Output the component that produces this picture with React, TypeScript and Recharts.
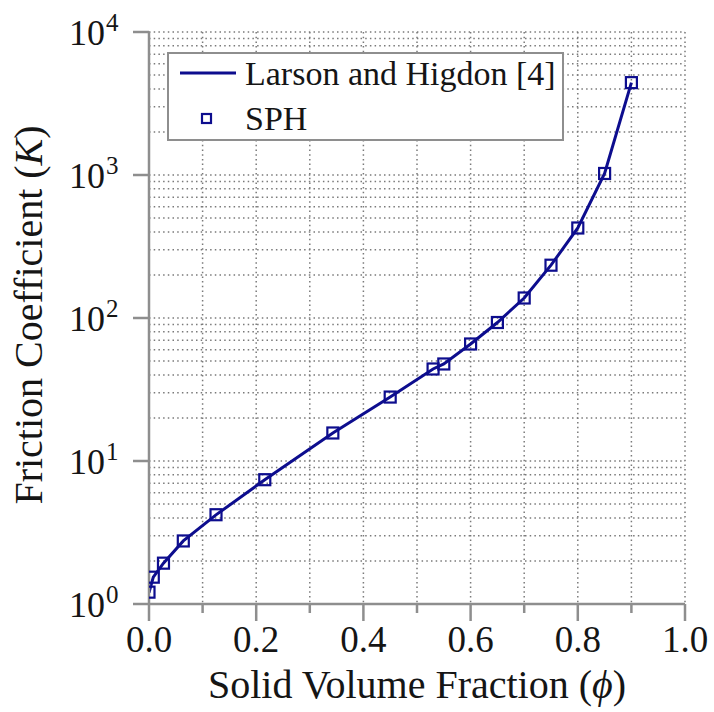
import React from "react";
import {
  ComposedChart,
  Line,
  Scatter,
  XAxis,
  YAxis,
  CartesianGrid,
  Legend,
} from "recharts";

// solid volume fraction and friction coefficient
const phi = [0, 0.008, 0.027, 0.064, 0.125, 0.216, 0.343, 0.45, 0.53, 0.55, 0.6, 0.65, 0.7, 0.75, 0.8, 0.85, 0.9];
const larsonK = [1.2, 1.54, 1.93, 2.76, 4.2, 7.4, 15.7, 28.0, 44, 47.7, 65.8, 93, 138, 234, 426, 1025, 4425];
const sphK = [1.21, 1.54, 1.93, 2.76, 4.21, 7.4, 15.7, 28.0, 44, 47.7, 65.8, 93, 138, 234, 426, 1025, 4425];

const xTicks = [0, 0.1, 0.2, 0.3, 0.4, 0.5, 0.6, 0.7, 0.8, 0.9, 1.0];
const decades = [1, 10, 100, 1000];
const mantissas = [1, 2, 3, 4, 5, 6, 7, 8, 9];
const yTicks = [...decades.flatMap((d) => mantissas.map((m) => m * d)), 10000];

const rows = phi.map((p, i) => ({ phi: p, larson: larsonK[i], sph: sphK[i] }));

const NAVY = "#0d0d8e";
const FRAME = "#8e8e8e";
const FONT = "'Liberation Serif', 'Times New Roman', serif";
const TEXT = "#151515";
const txt = { fontFamily: FONT };

const isMajorX = (v: number) => Math.round(v * 10) % 2 === 0;
const isDecade = (v: number) => decades.includes(v) || v === 10000;

function BottomTick(props: any) {
  const { x, y, payload } = props;
  const major = isMajorX(payload.value);
  return (
    <g>
      <line x1={x} y1={y} x2={x} y2={y + (major ? 17 : 9)} stroke={FRAME} strokeWidth={2.5} />
      {major && (
        <text x={x} y={y + 48} textAnchor="middle" style={txt} fontSize={37} fill={TEXT}>
          {payload.value.toFixed(1)}
        </text>
      )}
    </g>
  );
}

function TopTick(props: any) {
  const { x, y, payload } = props;
  const major = isMajorX(payload.value);
  return <line x1={x} y1={y} x2={x} y2={y - (major ? 18 : 8)} stroke={FRAME} strokeWidth={2.5} />;
}

function LeftTick(props: any) {
  const { x, y, payload } = props;
  if (!isDecade(payload.value)) return <g />;
  const exp = Math.round(Math.log10(payload.value));
  return (
    <g>
      <line x1={x} y1={y} x2={x - 16} y2={y} stroke={FRAME} strokeWidth={2.5} />
      <text x={x - 44} y={y + 13} textAnchor="end" style={txt} fontSize={36} fill={TEXT}>
        10
      </text>
      <text x={x - 43} y={y - 1} textAnchor="start" style={txt} fontSize={25} fill={TEXT}>
        {exp}
      </text>
    </g>
  );
}

function RightTick(props: any) {
  const { x, y, payload } = props;
  if (!isDecade(payload.value)) return <g />;
  return <line x1={x} y1={y} x2={x + 17} y2={y} stroke={FRAME} strokeWidth={2.5} />;
}

function XTitle(props: any) {
  const { viewBox } = props;
  const cx = viewBox.x + viewBox.width / 2;
  return (
    <text x={cx} y={viewBox.y + 94} textAnchor="middle" style={txt} fontSize={40} fill={TEXT}>
      Solid Volume Fraction (<tspan fontStyle="italic">ϕ</tspan>)
    </text>
  );
}

function YTitle(props: any) {
  const { viewBox } = props;
  const cy = viewBox.y + viewBox.height / 2 - 3;
  const bx = 42;
  return (
    <text
      x={bx}
      y={cy}
      textAnchor="middle"
      transform={`rotate(-90, ${bx}, ${cy})`}
      style={txt}
      fontSize={40}
      fill={TEXT}
    >
      Friction Coefficient (<tspan fontStyle="italic">K</tspan>)
    </text>
  );
}

function Square(props: any) {
  const { cx, cy } = props;
  if (cx == null || cy == null) return <g />;
  return <rect x={cx - 5.5} y={cy - 5.5} width={11} height={11} fill="none" stroke={NAVY} strokeWidth={2.2} />;
}

function LegendBox() {
  return (
    <div
      style={{
        width: 397,
        height: 89,
        boxSizing: "border-box",
        border: `2px solid ${FRAME}`,
        background: "#fff",
      }}
    >
      <svg width={393} height={85} style={{ display: "block" }}>
        <line x1={11} y1={19} x2={67} y2={19} stroke={NAVY} strokeWidth={3} />
        <text x={76} y={31} style={txt} fontSize={34} fill={TEXT}>
          Larson and Higdon [4]
        </text>
        <rect x={33} y={60} width={9} height={9} fill="none" stroke={NAVY} strokeWidth={2.2} />
        <text x={76} y={76} style={txt} fontSize={34} fill={TEXT}>
          SPH
        </text>
      </svg>
    </div>
  );
}

export default function App() {
  return (
    <div style={{ position: "absolute", left: 0, top: 0, background: "#fff" }}>
      <ComposedChart width={714} height={712} data={rows} margin={{ top: 32, right: 29, bottom: 0, left: 0 }}>
        <CartesianGrid stroke="#7a7a7a" strokeDasharray="1.5 3.2" strokeWidth={1.5} />
        <XAxis
          type="number"
          dataKey="phi"
          domain={[0, 1]}
          ticks={xTicks}
          interval={0}
          allowDataOverflow
          height={108}
          tickLine={false}
          tickSize={0}
          tickMargin={0}
          tick={(p: any) => <BottomTick {...p} />}
          axisLine={{ stroke: FRAME, strokeWidth: 2.5 }}
          label={{ content: (p: any) => <XTitle {...p} /> }}
        />
        <XAxis
          xAxisId="top"
          orientation="top"
          type="number"
          dataKey="phi"
          domain={[0, 1]}
          ticks={xTicks}
          interval={0}
          allowDataOverflow
          height={0}
          tickLine={false}
          tickSize={0}
          tickMargin={0}
          tick={(p: any) => <TopTick {...p} />}
          axisLine={{ stroke: FRAME, strokeWidth: 2.5 }}
        />
        <YAxis
          scale="log"
          domain={[1, 10000]}
          ticks={yTicks}
          interval={0}
          allowDataOverflow
          width={149}
          tickLine={false}
          tickSize={0}
          tickMargin={0}
          tick={(p: any) => <LeftTick {...p} />}
          axisLine={{ stroke: FRAME, strokeWidth: 2.5 }}
          label={{ content: (p: any) => <YTitle {...p} /> }}
        />
        <YAxis
          yAxisId="right"
          orientation="right"
          scale="log"
          domain={[1, 10000]}
          ticks={yTicks}
          interval={0}
          allowDataOverflow
          width={0}
          tickLine={false}
          tickSize={0}
          tickMargin={0}
          tick={(p: any) => <RightTick {...p} />}
          axisLine={{ stroke: FRAME, strokeWidth: 2.5 }}
        />
        <Line
          dataKey="larson"
          type="linear"
          stroke={NAVY}
          strokeWidth={3}
          dot={false}
          isAnimationActive={false}
        />
        <Scatter dataKey="sph" shape={(p: any) => <Square {...p} />} isAnimationActive={false} />
        <Legend
          layout="horizontal"
          verticalAlign="middle"
          align="center"
          content={() => <LegendBox />}
          wrapperStyle={{ left: 167, top: 52, width: 397, height: 89 }}
        />
      </ComposedChart>
    </div>
  );
}
